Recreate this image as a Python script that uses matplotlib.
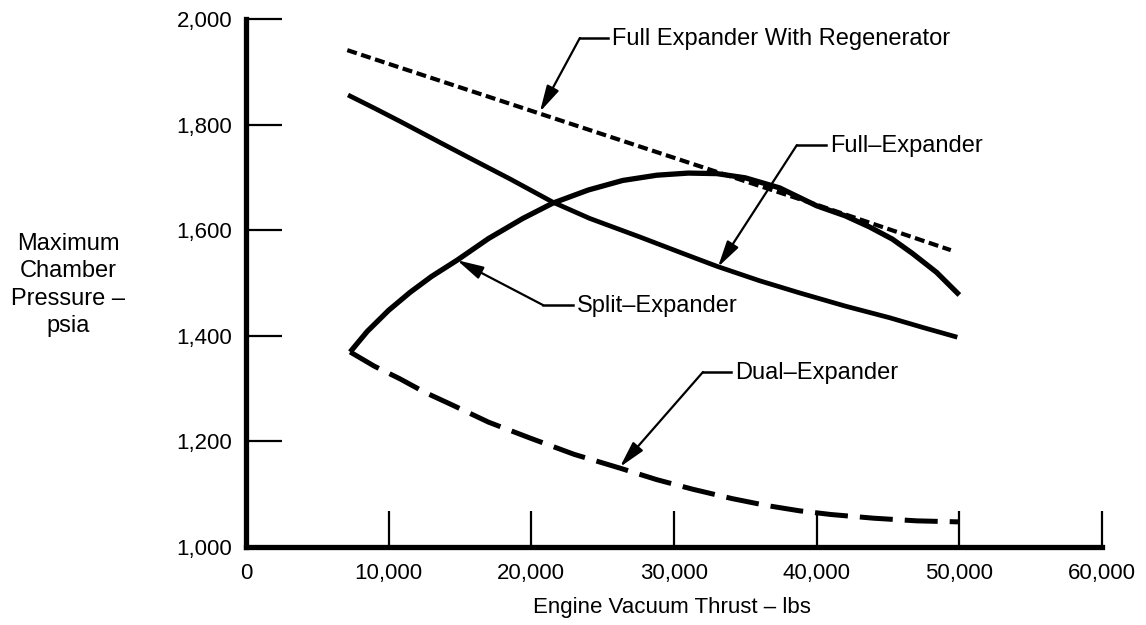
import matplotlib
matplotlib.use("Agg")
import matplotlib.pyplot as plt
from matplotlib.ticker import FuncFormatter

plt.rcParams['font.family'] = ['Liberation Sans', 'DejaVu Sans']

# ---- data ----
regen_x = [7100, 10000, 20000, 30000, 40000, 49400]
regen_y = [1941, 1915, 1826, 1737, 1648, 1562]

full_x = [7300, 8500, 10000, 11500, 13000, 14800, 17000, 19400, 21500, 24000, 26400, 28800,
          31000, 33000, 35000, 37400, 40000, 42000, 43700, 45300, 46700, 48400, 50000]
full_y = [1369, 1408, 1448, 1482, 1512, 1543, 1584, 1622, 1651, 1676, 1694, 1704,
          1708, 1707, 1699, 1680, 1646, 1627, 1606, 1583, 1556, 1520, 1477]

split_x = [7150, 9000, 10800, 13600, 16000, 18500, 21500, 24100, 27600, 30500, 33050, 36000,
           38800, 42000, 45100, 47500, 49860]
split_y = [1856, 1831, 1806, 1766, 1732, 1697, 1653, 1622, 1587, 1557, 1531, 1504,
           1481, 1456, 1434, 1415, 1397]

dual_x = [7300, 9000, 10800, 12500, 14500, 17000, 19900, 23000, 26200, 28800, 31300, 34100,
          36500, 38800, 41000, 44000, 47000, 50000]
dual_y = [1369, 1342, 1318, 1293, 1268, 1236, 1206, 1175, 1149, 1127, 1109, 1091,
          1078, 1068, 1061, 1054, 1049, 1047]

x_ticks = [0, 10000, 20000, 30000, 40000, 50000, 60000]
y_ticks = [1000, 1200, 1400, 1600, 1800, 2000]

labels = ["Full Expander With Regenerator", "Full\u2013Expander", "Split\u2013Expander", "Dual\u2013Expander"]
# (arrow tip, elbow, text start)
label_tips = [(20600, 1824), (33080, 1530), (14790, 1543), (26210, 1151)]
label_elbows = [(23400, 1964), (38610, 1761), (20810, 1458), (32030, 1331)]
label_texts = [(25650, 1962), (40930, 1759), (23200, 1456), (34270, 1329)]

# ---- figure ----
fig = plt.figure(figsize=(11.46, 6.25), dpi=100)
ax = fig.add_axes([246 / 1146, 78.3 / 625, (1102 - 246) / 1146, (546.7 - 19) / 625])

ax.plot(regen_x, regen_y, color='black', lw=3.0, linestyle=(0, (2.4, 1.1)), solid_capstyle='butt')
ax.plot(full_x, full_y, color='black', lw=3.8, solid_capstyle='butt', solid_joinstyle='round')
ax.plot(split_x, split_y, color='black', lw=3.4, solid_capstyle='butt', solid_joinstyle='round')
ax.plot(dual_x, dual_y, color='black', lw=3.6, linestyle=(0, (6.6, 2.4)))

ax.set_xlim(0, 60000)
ax.set_ylim(1000, 2000)
ax.set_xticks(x_ticks)
ax.set_yticks(y_ticks)
ax.xaxis.set_major_formatter(FuncFormatter(lambda v, p: f"{int(v):,}"))
ax.yaxis.set_major_formatter(FuncFormatter(lambda v, p: f"{int(v):,}"))
ax.tick_params(direction='in', length=26, width=1.6, labelsize=16, color='black')
ax.tick_params(axis='y', pad=10)
ax.tick_params(axis='x', pad=12)

for s in ['top', 'right']:
    ax.spines[s].set_visible(False)
for s in ['left', 'bottom']:
    ax.spines[s].set_linewidth(3.8)
    ax.spines[s].set_capstyle('projecting')

for lab, tip, elb, txt in zip(labels, label_tips, label_elbows, label_texts):
    ax.annotate('', xy=tip, xytext=elb,
                arrowprops=dict(arrowstyle='-|>,head_length=0.8,head_width=0.2',
                                lw=1.6, color='black', fc='black',
                                shrinkA=0, shrinkB=0, mutation_scale=20))
    ax.plot([elb[0], txt[0] - 300], [elb[1], elb[1]], color='black', lw=1.8)
    ax.text(txt[0], txt[1], lab, ha='left', va='center', fontsize=17)

fig.text(68 / 1146, 1 - 285 / 625, "Maximum\nChamber\nPressure \u2013\npsia",
         ha='center', va='center', multialignment='center', fontsize=17, linespacing=1.3)
fig.text(672 / 1146, 1 - 607 / 625, "Engine Vacuum Thrust \u2013 lbs",
         ha='center', va='center', fontsize=16)

fig.savefig("out.png", dpi=100)
